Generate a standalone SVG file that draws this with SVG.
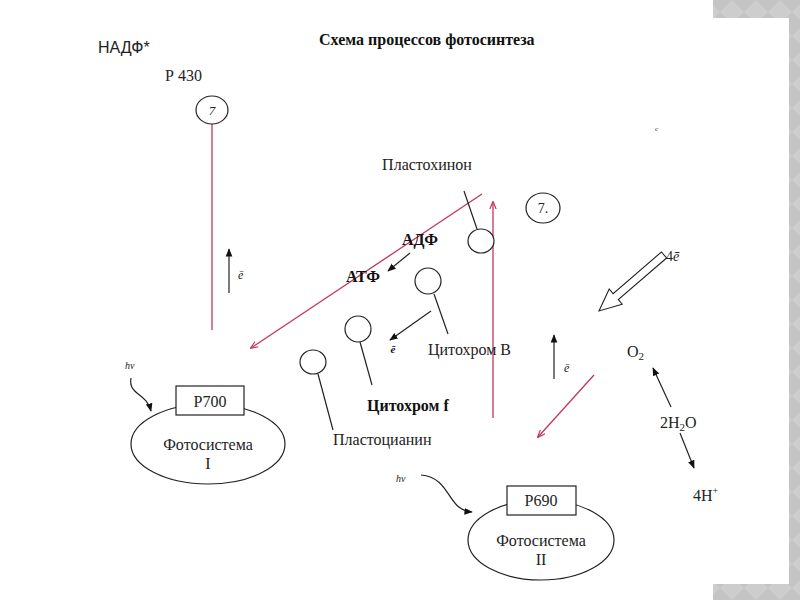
<svg xmlns="http://www.w3.org/2000/svg" width="800" height="600" viewBox="0 0 800 600">
<style>
.serif{font-family:"Liberation Serif","Times New Roman",serif;fill:#222}
.sans{font-family:"Liberation Sans",Arial,sans-serif;fill:#222}
.b{font-weight:bold;fill:#111}
.ln{stroke:#222;stroke-width:1.2;fill:none}
.pk{stroke:#c4365c;stroke-width:1.3;fill:none}
.circ{fill:#fff;stroke:#222;stroke-width:1.2}
</style>
<defs>
<marker id="ah" viewBox="0 0 10 10" refX="9" refY="5" markerWidth="7" markerHeight="7" orient="auto-start-reverse">
<path d="M0,1 L10,5 L0,9 z" fill="#111"/>
</marker>
<marker id="ap" viewBox="0 0 10 10" refX="9" refY="5" markerWidth="6" markerHeight="6" orient="auto-start-reverse">
<path d="M0,1 L10,5 L0,9" fill="none" stroke="#c4365c" stroke-width="1.5"/>
</marker>
<pattern id="dia" width="24" height="24" patternUnits="userSpaceOnUse">
<rect width="24" height="24" fill="#c4c4c4"/>
<path d="M12,0 L24,12 L12,24 L0,12 z" fill="#cdcdcd"/>
</pattern>
</defs>
<rect width="800" height="600" fill="#fff"/>
<g id="frame">
<rect x="713" y="0" width="87" height="18" fill="url(#dia)"/>
<rect x="789" y="0" width="11" height="600" fill="url(#dia)"/>
<rect x="713" y="584" width="87" height="16" fill="url(#dia)"/>
</g>
<text class="serif b" x="319" y="45" font-size="16">Схема процессов фотосинтеза</text>
<text class="sans" x="98" y="53" font-size="16">НАДФ*</text>
<text class="serif" x="655" y="131" font-size="7" fill="#666">с</text>

<g id="connectors">
<line class="pk" x1="212" y1="124" x2="212" y2="330"/>
<line class="pk" x1="482" y1="194" x2="251" y2="348" marker-end="url(#ap)"/>
<line class="pk" x1="493" y1="418" x2="493" y2="202" marker-end="url(#ap)"/>
<line class="pk" x1="594" y1="375" x2="538" y2="437" marker-end="url(#ap)"/>
<line class="ln" x1="229" y1="293" x2="229" y2="249" marker-end="url(#ah)"/>
<line class="ln" x1="554" y1="379" x2="554" y2="335" marker-end="url(#ah)"/>
<line class="ln" x1="410" y1="253" x2="388" y2="271" marker-end="url(#ah)"/>
<line class="ln" x1="431" y1="311" x2="390" y2="340" marker-end="url(#ah)"/>
<line class="ln" x1="671" y1="407" x2="653" y2="368" marker-end="url(#ah)"/>
<line class="ln" x1="680" y1="433" x2="694" y2="468" marker-end="url(#ah)"/>
<path class="ln" d="M131,378 C128,395 146,392 151,411" marker-end="url(#ah)"/>
<path class="ln" d="M421,475 C452,478 446,510 472,512" marker-end="url(#ah)"/>
<path d="M666.6,258 L618.3,299.6 L622.2,304.2 L599,311 L609.2,289 L613.1,293.6 L661.4,252 z" fill="#fff" stroke="#222" stroke-width="1.1" stroke-linejoin="miter"/>
</g>

<g id="p430">
<text class="serif" x="165" y="81" font-size="16">Р 430</text>
<ellipse class="circ" cx="212" cy="110" rx="16" ry="14"/>
<text class="serif" x="212" y="115" font-size="13" font-style="italic" text-anchor="middle">7</text>
</g>
<text class="serif" x="238" y="279" font-size="12" font-style="italic">ē</text>

<g id="plastoquinone">
<text class="serif" x="427" y="170" font-size="16" text-anchor="middle" fill="#333">Пластохинон</text>
<line class="ln" x1="464" y1="191" x2="477" y2="229"/>
<ellipse class="circ" cx="481" cy="241" rx="13" ry="12"/>
</g>
<g id="z2">
<ellipse class="circ" cx="543" cy="208" rx="17" ry="15"/>
<text class="serif" x="543" y="213" font-size="14" text-anchor="middle">7.</text>
</g>
<text class="serif b" x="420" y="245" font-size="16" text-anchor="middle">АДФ</text>
<text class="serif b" x="363" y="282" font-size="16" text-anchor="middle">АТФ</text>

<g id="cytB">
<line class="ln" x1="434" y1="294" x2="448" y2="334"/>
<ellipse class="circ" cx="428" cy="281" rx="13" ry="13"/>
<text class="serif" x="428" y="355" font-size="16">Цитохром В</text>
</g>
<text class="serif b" x="393" y="353" font-size="11" font-style="italic" text-anchor="middle">ē</text>
<g id="cytF">
<line class="ln" x1="360" y1="342" x2="372" y2="385"/>
<ellipse class="circ" cx="358" cy="329" rx="13" ry="13"/>
<text class="serif b" x="367" y="411" font-size="16">Цитохром f</text>
</g>
<g id="plastocyanin">
<line class="ln" x1="318" y1="374" x2="333" y2="430"/>
<ellipse class="circ" cx="313" cy="362" rx="13" ry="12"/>
<text class="serif" x="333" y="445" font-size="16" fill="#333">Пластоцианин</text>
</g>
<text class="serif" x="564" y="372" font-size="12" font-style="italic">ē</text>

<g id="ps1">
<ellipse cx="208" cy="444" rx="77" ry="40" fill="#fff" stroke="#222" stroke-width="1.2"/>
<rect x="176" y="386" width="68" height="29" fill="#fff" stroke="#222" stroke-width="1.2"/>
<text class="serif" x="210" y="407" font-size="16" text-anchor="middle">Р700</text>
<text class="serif" x="208" y="450" font-size="16" text-anchor="middle">Фотосистема</text>
<text class="serif" x="208" y="469" font-size="16" text-anchor="middle">I</text>
<text class="serif" x="125" y="369" font-size="10" font-style="italic" fill="#888">hν</text>
</g>
<g id="ps2">
<ellipse cx="541" cy="540" rx="73" ry="40" fill="#fff" stroke="#222" stroke-width="1.2"/>
<rect x="507" y="486" width="69" height="29" fill="#fff" stroke="#222" stroke-width="1.2"/>
<text class="serif" x="541" y="506" font-size="16" text-anchor="middle">Р690</text>
<text class="serif" x="541" y="546" font-size="16" text-anchor="middle">Фотосистема</text>
<text class="serif" x="541" y="565" font-size="16" text-anchor="middle">II</text>
<text class="serif" x="396" y="482" font-size="10" font-style="italic" fill="#888">hν</text>
</g>
<g id="water">
<text class="serif" x="666" y="261" font-size="14">4<tspan font-style="italic">ē</tspan></text>
<text class="serif" x="627" y="357" font-size="16">O<tspan font-size="11" dy="3">2</tspan></text>
<text class="serif" x="660" y="428" font-size="16">2H<tspan font-size="11" dy="3">2</tspan><tspan dy="-3">O</tspan></text>
<text class="serif" x="693" y="501" font-size="16">4H<tspan font-size="10" dy="-7">+</tspan></text>
</g>
</svg>
